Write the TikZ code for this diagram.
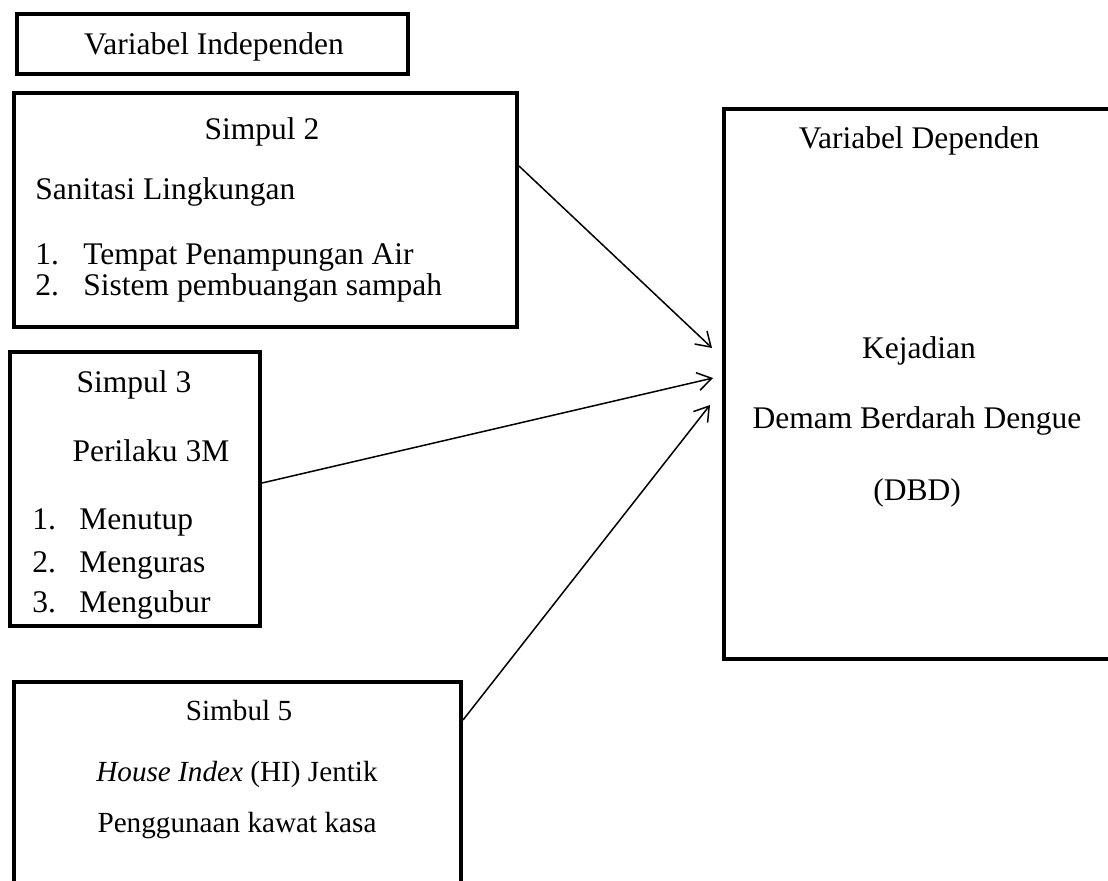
\documentclass[tikz,border=0pt]{standalone}
\usepackage{fontspec}
\setmainfont{Liberation Serif}
\usetikzlibrary{arrows.meta}

\begin{document}
\begin{tikzpicture}[x=0.5pt,y=-0.5pt,
    box/.style={draw,line width=2pt,anchor=north west,inner sep=0pt},
    txt/.style={anchor=base,inner sep=0pt,font=\fontsize{15.75}{18}\selectfont},
    txtl/.style={txt,anchor=base west},
    small/.style={txt,font=\fontsize{14.6}{17}\selectfont},
    arr/.style={line width=0.75pt,-{Straight Barb[length=7pt,width=9pt]}}]
      \useasboundingbox (0,0) rectangle (1108,880);
      \node[box,minimum width=195.5pt,minimum height=30pt] (indep) at (15,12) {};
      \node[box,minimum width=251.5pt,minimum height=117pt] (simpul2) at (12,91) {};
      \node[box,minimum width=125pt,minimum height=137pt] (simpul3) at (8,350) {};
      \node[box,minimum width=223.5pt,minimum height=119pt] (simbul5) at (12,680) {};
      \node[box,minimum width=196pt,minimum height=275pt] (dependen) at (722,107) {};

      \node[txt] (indeplbl) at (214,54) {Variabel Independen};
      \node[txt] (s2head) at (262,139) {Simpul 2};
      \node[txtl] (s2sub) at (35,199) {Sanitasi Lingkungan};
      \node[txtl] (s2a) at (35,264) {\makebox[24pt][l]{1.}Tempat Penampungan Air};
      \node[txtl] (s2b) at (35,295) {\makebox[24pt][l]{2.}Sistem pembuangan sampah};
      \node[txt] (s3head) at (134,392) {Simpul 3};
      \node[txt] (s3sub) at (151,461) {Perilaku 3M};
      \node[txtl] (s3a) at (32,529) {\makebox[23.5pt][l]{1.}Menutup};
      \node[txtl] (s3b) at (32,572) {\makebox[23.5pt][l]{2.}Menguras};
      \node[txtl] (s3c) at (32,612) {\makebox[23.5pt][l]{3.}Mengubur};
      \node[small] (s5head) at (239,720) {Simbul 5};
      \node[small] (s5a) at (237,781) {\textit{House Index} (HI) Jentik};
      \node[small] (s5b) at (237,832) {Penggunaan kawat kasa};
      \node[txt] (dephead) at (919,148) {Variabel Dependen};
      \node[txt] (depa) at (919,358) {Kejadian};
      \node[txt] (depb) at (917,428) {Demam Berdarah Dengue};
      \node[txt] (depc) at (917,500) {(DBD)};

      \coordinate (tip1) at ([xshift=-5pt,yshift=18pt]dependen.west);
      \coordinate (tip2) at ([xshift=-4.5pt,yshift=3pt]dependen.west);
      \coordinate (tip3) at ([xshift=-6pt,yshift=-10.5pt]dependen.west);
      \draw[arr] ([yshift=22pt]simpul2.east) -- (tip1);
      \draw[arr] ([yshift=3pt]simpul3.east) -- (tip2);
      \draw[arr] ([yshift=-20pt]simbul5.north east) -- (tip3);
    \end{tikzpicture}
\end{document}
